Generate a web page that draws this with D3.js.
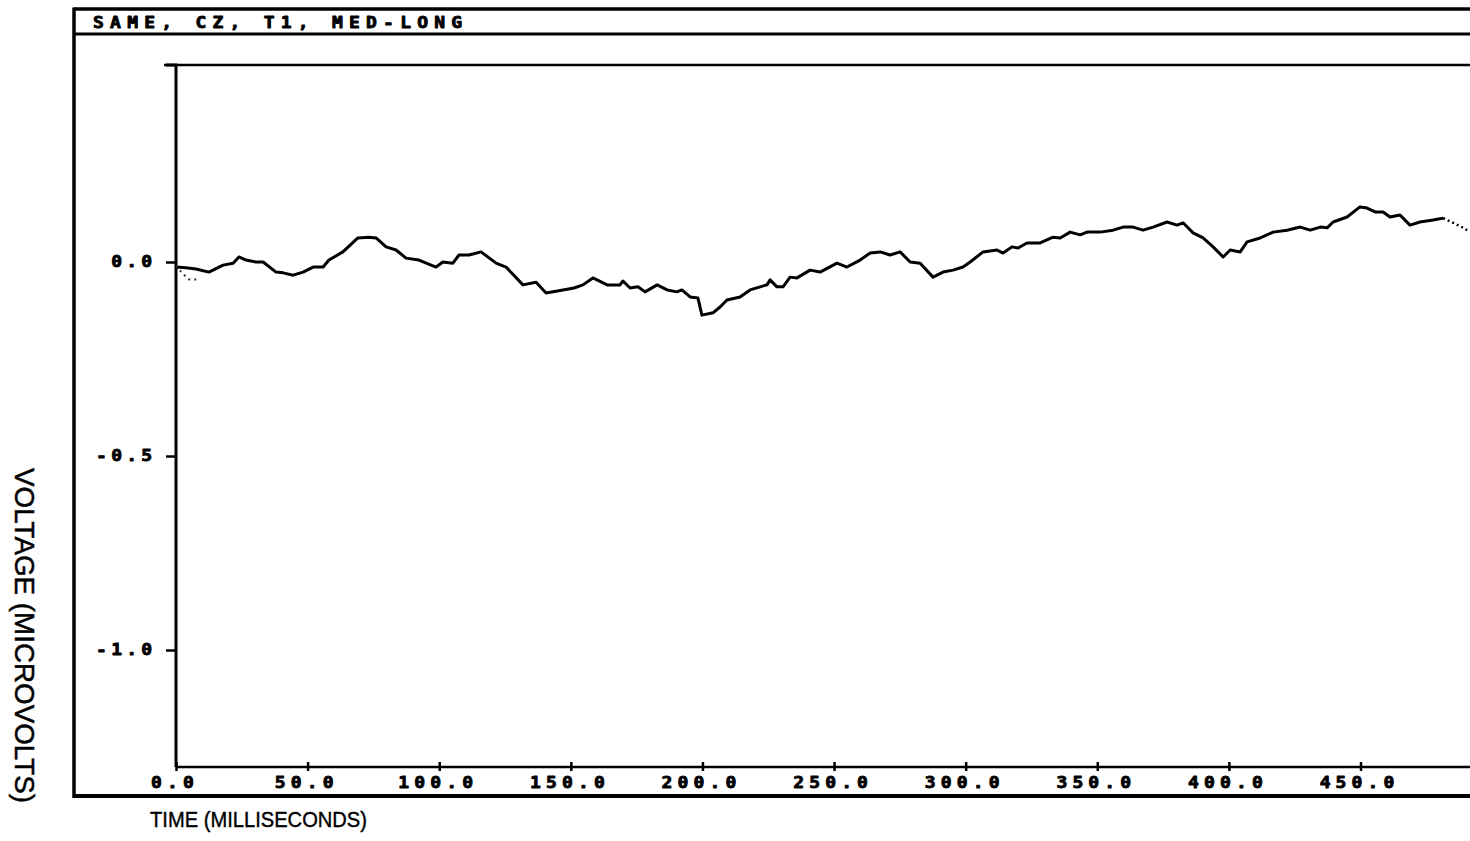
<!DOCTYPE html>
<html>
<head>
<meta charset="utf-8">
<script src="https://cdn.jsdelivr.net/npm/d3@7"></script>
<style>
  html, body { margin: 0; padding: 0; background: #fff; }
  svg { display: block; }
</style>
</head>
<body>
<svg id="chart" width="1470" height="841"></svg>
<script>
// Averaged evoked potential trace: time in ms, voltage in microvolts
const timeMs = [
  0.0, 3.8, 7.6, 12.5, 17.9, 21.7, 23.9, 26.6, 30.4, 33.1,
  38.0, 40.7, 44.5, 48.3, 52.1, 55.9, 58.1, 63.4, 69.1, 73.3,
  76.0, 79.8, 83.6, 87.4, 92.3, 98.8, 101.4, 105.2, 107.5, 111.3,
  115.9, 121.6, 125.4, 131.8, 136.8, 140.6, 147.0, 151.2, 154.6, 158.4,
  163.8, 168.7, 169.8, 172.5, 175.5, 178.2, 182.8, 186.6, 190.3, 192.2,
  195.3, 198.3, 199.8, 204.0, 206.7, 209.3, 214.3, 218.1, 221.9, 224.5,
  225.7, 228.3, 230.6, 233.3, 235.9, 240.9, 244.7, 251.1, 254.9, 259.9,
  263.7, 267.5, 271.3, 275.1, 278.9, 282.7, 287.6, 291.4, 295.2, 299.0,
  301.7, 306.6, 311.9, 314.2, 317.6, 319.9, 323.3, 328.3, 333.2, 335.9,
  339.7, 343.5, 346.1, 351.1, 356.0, 359.8, 363.6, 367.4, 371.2, 376.5,
  380.3, 382.6, 386.4, 390.2, 394.0, 397.8, 400.5, 404.3, 406.9, 411.9,
  416.8, 422.1, 427.1, 430.9, 434.7, 437.3, 439.6, 444.9, 449.8, 452.5,
  455.5, 458.6, 461.2, 465.0, 468.8, 472.6, 477.6, 481.4
];
const voltage = [
  -0.013, -0.015, -0.018, -0.026, -0.008, -0.003, 0.013, 0.005, 0.000, 0.000,
  -0.026, -0.028, -0.034, -0.026, -0.013, -0.013, 0.005, 0.026, 0.062, 0.064,
  0.062, 0.039, 0.031, 0.010, 0.005, -0.013, 0.000, -0.003, 0.018, 0.018,
  0.026, -0.003, -0.013, -0.059, -0.052, -0.080, -0.072, -0.067, -0.059, -0.041,
  -0.059, -0.059, -0.049, -0.067, -0.064, -0.077, -0.059, -0.072, -0.077, -0.072,
  -0.090, -0.093, -0.137, -0.131, -0.116, -0.098, -0.090, -0.072, -0.064, -0.059,
  -0.046, -0.064, -0.064, -0.039, -0.041, -0.021, -0.026, -0.003, -0.013, 0.005,
  0.023, 0.026, 0.018, 0.026, 0.000, -0.003, -0.039, -0.026, -0.021, -0.013,
  0.000, 0.026, 0.031, 0.023, 0.039, 0.036, 0.049, 0.049, 0.064, 0.062,
  0.077, 0.070, 0.077, 0.077, 0.082, 0.090, 0.090, 0.082, 0.090, 0.103,
  0.095, 0.101, 0.075, 0.062, 0.039, 0.013, 0.031, 0.026, 0.052, 0.062,
  0.077, 0.082, 0.090, 0.082, 0.090, 0.088, 0.103, 0.116, 0.142, 0.139,
  0.129, 0.129, 0.116, 0.121, 0.095, 0.103, 0.108, 0.113
];
// Faint dotted tail at the end of the sweep
const tailTime = [481.4, 485.2, 488.0, 490.5];
const tailVoltage = [0.113, 0.101, 0.092, 0.082];
// Faint dotted start artefact
const startTime = [0.0, 2.5, 5.0, 8.5];
const startVoltage = [-0.010, -0.030, -0.045, -0.045];

const xTicks = [0, 50, 100, 150, 200, 250, 300, 350, 400, 450];
const yTicks = [0.0, -0.5, -1.0];
const title = "SAME, CZ, T1, MED-LONG";
const xTitle = "TIME (MILLISECONDS)";
const yTitle = "VOLTAGE (MICROVOLTS)";

const svg = d3.select("#chart");
const W = 1470;

// Plot region
const plotLeft = 176, plotRight = 1470, plotTop = 65, plotBottom = 767;
const x = d3.scaleLinear().domain([0, 491.6]).range([plotLeft, plotRight]);
const y = d3.scaleLinear().domain([-1.3015, 0.5077]).range([plotBottom, plotTop]);

const ink = "#000";
const plotFont = "'DejaVu Sans Mono', monospace";
const stretch = 1.2;   // plotter glyphs are wider than ordinary monospace

// Plotter-style lettering: heavy, widened monospace glyphs
function plotterText(sel, spacing) {
  sel.attr("font-family", plotFont).attr("font-weight", "bold")
    .attr("font-size", 15).attr("letter-spacing", spacing)
    .attr("fill", ink).attr("stroke", ink).attr("stroke-width", 0.8)
    .attr("stroke-linejoin", "round");
}

// Outer frame with title bar
const frame = svg.append("g").attr("stroke", ink).attr("fill", "none");
frame.append("line").attr("x1", 74).attr("x2", W).attr("y1", 9).attr("y2", 9).attr("stroke-width", 3.5);
frame.append("line").attr("x1", 74).attr("x2", W).attr("y1", 34).attr("y2", 34).attr("stroke-width", 3);
frame.append("line").attr("x1", 74).attr("x2", W).attr("y1", 796).attr("y2", 796).attr("stroke-width", 4);
frame.append("line").attr("x1", 74).attr("x2", 74).attr("y1", 7.5).attr("y2", 798).attr("stroke-width", 3.5);

svg.append("text")
  .attr("transform", `translate(93,28) scale(${stretch},1)`)
  .call(plotterText, 5.2)
  .text(title);

// Top border of the plot area
svg.append("line")
  .attr("x1", plotLeft - 12).attr("x2", W)
  .attr("y1", plotTop).attr("y2", plotTop)
  .attr("stroke", ink).attr("stroke-width", 2.5);

// Y axis
const yAxis = d3.axisLeft(y).tickValues(yTicks).tickSize(10).tickFormat(d3.format(".1f"));
const gy = svg.append("g").attr("transform", `translate(${plotLeft},0)`).call(yAxis);
gy.select(".domain").attr("d", `M-10,${plotTop}H0V${plotBottom}`).attr("stroke-width", 3);
gy.selectAll(".tick line").attr("stroke-width", 2.5);
gy.selectAll(".tick text")
  .attr("transform", `scale(${stretch},1)`)
  .attr("x", (-24 + 3.5 * stretch) / stretch)
  .call(plotterText, 3.5)
  .text(d => d === 0 ? "0.0" : d3.format(".1f")(d).replace("−", "-"));

// X axis
const xAxis = d3.axisBottom(x).tickValues(xTicks).tickSize(0).tickFormat(d3.format(".1f"));
const gx = svg.append("g").attr("transform", `translate(0,${plotBottom})`).call(xAxis);
gx.select(".domain").attr("d", `M${plotLeft},0H${W}`).attr("stroke-width", 2.5);
gx.selectAll(".tick line").attr("y1", -5).attr("y2", 4).attr("stroke-width", 2.5);
gx.selectAll(".tick text")
  .attr("transform", `scale(${stretch},1)`)
  .attr("x", (-4 + 2.15 * stretch) / stretch).attr("y", 10).attr("dy", "0.71em")
  .call(plotterText, 4.3);

// The trace
const line = d3.line().x(d => x(d[0])).y(d => y(d[1]));
const trace = timeMs.map((t, i) => [t, voltage[i]]);
svg.append("path")
  .datum(trace)
  .attr("d", line)
  .attr("fill", "none").attr("stroke", ink)
  .attr("stroke-width", 3).attr("stroke-linejoin", "round");

svg.append("path")
  .datum(tailTime.map((t, i) => [t, tailVoltage[i]]))
  .attr("d", line)
  .attr("fill", "none").attr("stroke", ink)
  .attr("stroke-width", 2.5).attr("stroke-dasharray", "2,3");

svg.append("path")
  .datum(startTime.map((t, i) => [t, startVoltage[i]]))
  .attr("d", line)
  .attr("fill", "none").attr("stroke", "#333")
  .attr("stroke-width", 2).attr("stroke-dasharray", "2,4");

// Axis titles
svg.append("text")
  .attr("x", 150).attr("y", 827)
  .attr("font-family", "'Liberation Sans', Arial, sans-serif")
  .attr("font-size", 22)
  .attr("textLength", 217).attr("lengthAdjust", "spacingAndGlyphs")
  .attr("fill", ink).attr("stroke", ink).attr("stroke-width", 0.4)
  .text(xTitle);

svg.append("text")
  .attr("transform", "translate(15,468) rotate(90)")
  .attr("font-family", "'Liberation Sans', Arial, sans-serif")
  .attr("font-size", 28)
  .attr("textLength", 335).attr("lengthAdjust", "spacingAndGlyphs")
  .attr("fill", ink).attr("stroke", ink).attr("stroke-width", 0.5)
  .text(yTitle);
</script>
</body>
</html>
